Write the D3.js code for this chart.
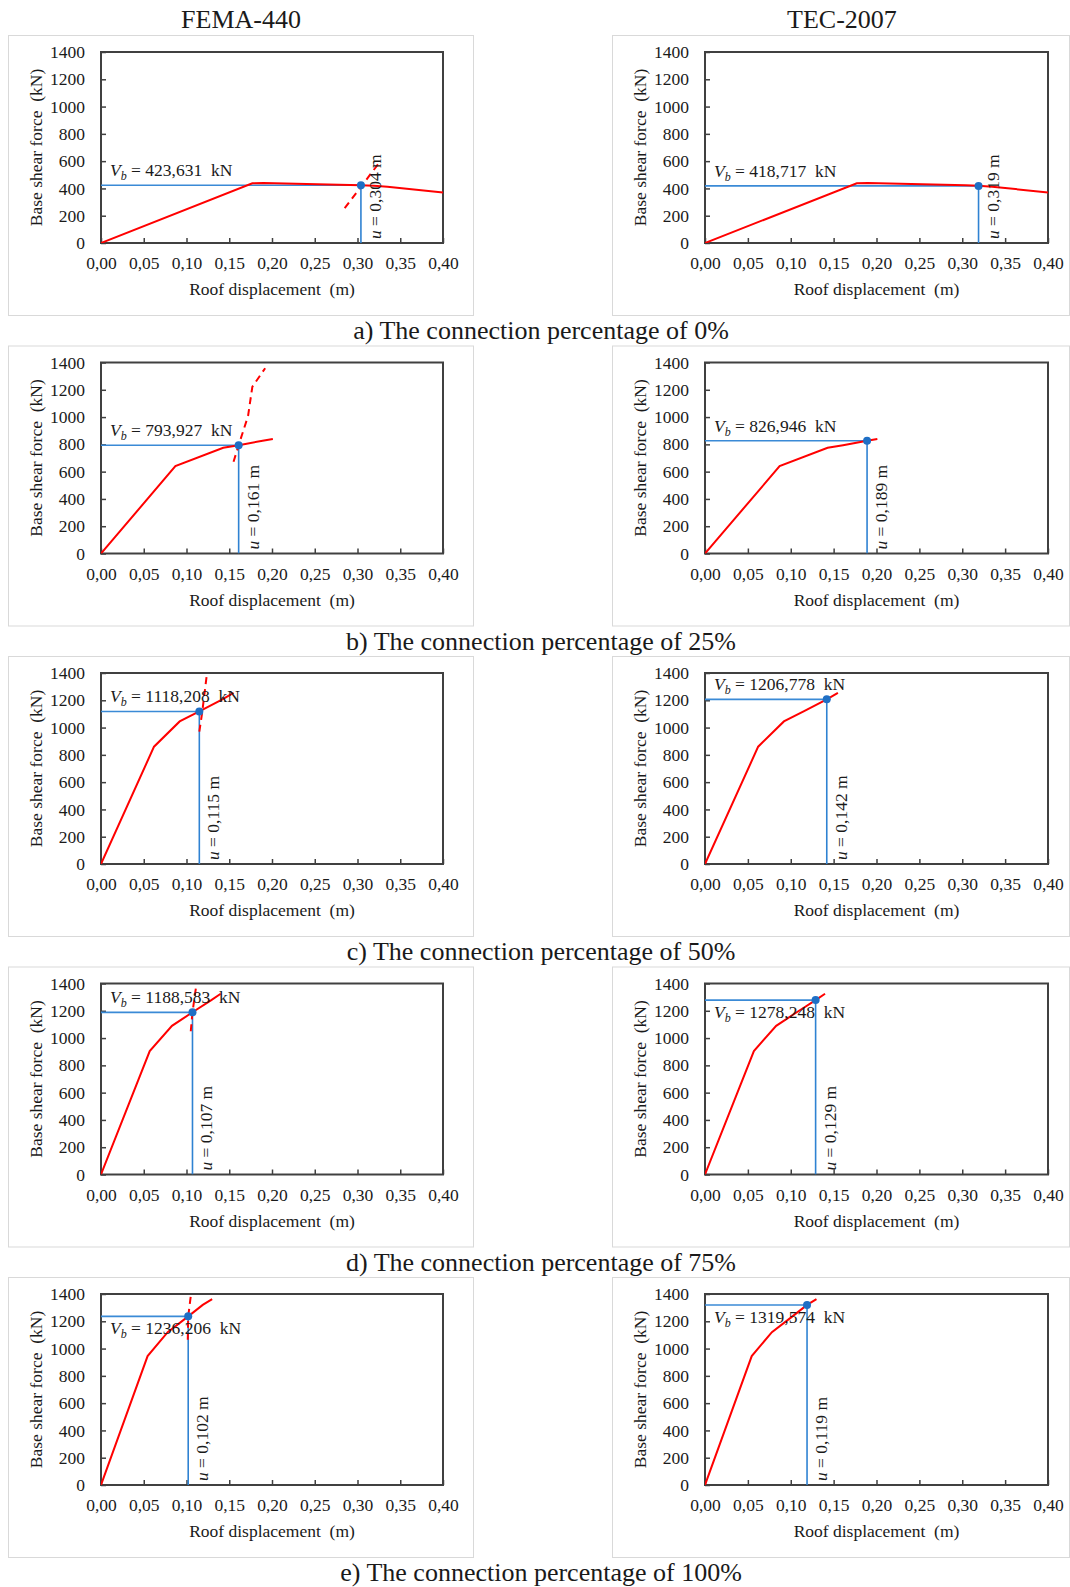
<!DOCTYPE html>
<html>
<head>
<meta charset="utf-8">
<script src="https://cdn.jsdelivr.net/npm/d3@7"></script>
<style>
  body { margin: 0; background: #fff; }
  svg text { font-family: "Liberation Serif", "Times New Roman", serif; fill: #1a1a1a; white-space: pre; }
</style>
</head>
<body>
<div id="chart"></div>
<script>
// data
var methods = ["FEMA-440", "TEC-2007"];
var captions = [
  "a) The connection percentage of 0%",
  "b) The connection percentage of 25%",
  "c) The connection percentage of 50%",
  "d) The connection percentage of 75%",
  "e) The connection percentage of 100%"
];
var xTicks = [0, 0.05, 0.10, 0.15, 0.20, 0.25, 0.30, 0.35, 0.40];
var yTicks = [0, 200, 400, 600, 800, 1000, 1200, 1400];

// capacity (pushover) curves, [roof displacement m, base shear kN]
var pushover0 = [[0, 0], [0.177, 438], [0.19, 440], [0.304, 424], [0.319, 419], [0.335, 413], [0.40, 370]];
var pushover25 = [[0, 0], [0.087, 640], [0.143, 775], [0.161, 794], [0.189, 827], [0.201, 840]];
var pushover50 = [[0, 0], [0.062, 860], [0.092, 1045], [0.115, 1118], [0.142, 1207], [0.155, 1255]];
var pushover75 = [[0, 0], [0.057, 905], [0.083, 1090], [0.107, 1189], [0.129, 1278], [0.140, 1325]];
var pushover100 = [[0, 0], [0.0545, 945], [0.078, 1120], [0.102, 1236], [0.119, 1320], [0.130, 1362]];

// FEMA-440 demand curves (dashed)
var demand0 = [[0.285, 255], [0.325, 585]];
var demand25 = [[0.155, 672], [0.161, 794], [0.172, 1008], [0.177, 1222], [0.192, 1358]];
var demand50 = [[0.115, 970], [0.1185, 1118], [0.124, 1400]];
var demand75 = [[0.105, 1050], [0.107, 1189], [0.1115, 1390]];
var demand100 = [[0.1015, 1065], [0.102, 1236], [0.105, 1385]];

// performance points
var femaU = [0.304, 0.161, 0.115, 0.107, 0.102];
var femaVb = [423.631, 793.927, 1118.208, 1188.583, 1236.206];
var tecU = [0.319, 0.189, 0.142, 0.129, 0.119];
var tecVb = [418.717, 826.946, 1206.778, 1278.248, 1319.574];

var pushovers = [pushover0, pushover25, pushover50, pushover75, pushover100];
var demands = [demand0, demand25, demand50, demand75, demand100];

// layout
var svgWidth = 1070;
var svgHeight = 1587;
var rowStep = 310.5;
var firstTop = 52;
var plotH = 191;
var colX = [{ x0: 101, x1: 443, boxL: 8, boxR: 473, title: 241 },
            { x0: 705, x1: 1048, boxL: 612, boxR: 1069, title: 842 }];
// Vb label under the line for these panels (row, col)
var labelBelow = [[false, false], [false, false], [false, false], [false, true], [true, true]];

var locale = d3.formatLocale({ decimal: ",", thousands: ".", grouping: [3], currency: ["", ""] });
var f2 = locale.format(".2f");
var f3 = locale.format(".3f");
var fInt = d3.format("d");

var svg = d3.select("#chart")
  .append("svg")
  .attr("width", svgWidth)
  .attr("height", svgHeight);

var defs = svg.append("defs");

// column headers
methods.forEach(function(m, c) {
  svg.append("text")
    .attr("x", colX[c].title)
    .attr("y", 28)
    .attr("text-anchor", "middle")
    .style("font-size", "26px")
    .text(m);
});

captions.forEach(function(cap, r) {
  var top = firstTop + r * rowStep;

  svg.append("text")
    .attr("x", 541)
    .attr("y", top + 287)
    .attr("text-anchor", "middle")
    .style("font-size", "26px")
    .text(cap);

  for (var c = 0; c < 2; c++) {
    var col = colX[c];
    var u = c === 0 ? femaU[r] : tecU[r];
    var vb = c === 0 ? femaVb[r] : tecVb[r];

    // outer frame of the panel
    svg.append("rect")
      .attr("x", col.boxL + 0.5)
      .attr("y", top - 17 + 0.5)
      .attr("width", col.boxR - col.boxL)
      .attr("height", 280)
      .attr("fill", "none")
      .attr("stroke", "#d9d9d9")
      .attr("stroke-width", 1);

    var xScale = d3.scaleLinear().domain([0, 0.40]).range([col.x0, col.x1]);
    var yScale = d3.scaleLinear().domain([0, 1400]).range([top + plotH, top]);

    var clipId = "clip" + r + "_" + c;
    defs.append("clipPath").attr("id", clipId)
      .append("rect")
      .attr("x", col.x0).attr("y", top)
      .attr("width", col.x1 - col.x0).attr("height", plotH);

    var g = svg.append("g");

    // axes with inward ticks
    var xAxis = d3.axisBottom(xScale).tickValues(xTicks)
      .tickSizeInner(-5).tickSizeOuter(0).tickPadding(14)
      .tickFormat(f2);
    var yAxis = d3.axisLeft(yScale).tickValues(yTicks)
      .tickSizeInner(-5).tickSizeOuter(0).tickPadding(16)
      .tickFormat(fInt);

    var gx = g.append("g")
      .attr("transform", "translate(0," + (top + plotH) + ")")
      .call(xAxis);
    var gy = g.append("g")
      .attr("transform", "translate(" + col.x0 + ",0)")
      .call(yAxis);
    [gx, gy].forEach(function(a) {
      a.attr("font-family", null).attr("font-size", null);
      a.select(".domain").remove();
      a.selectAll(".tick line").attr("stroke", "#404040").attr("stroke-width", 1.5);
      a.selectAll(".tick text")
        .style("font-size", "17.5px")
        .attr("fill", "#1a1a1a");
    });

    // plot frame
    g.append("rect")
      .attr("x", col.x0).attr("y", top)
      .attr("width", col.x1 - col.x0).attr("height", plotH)
      .attr("fill", "none")
      .attr("stroke", "#404040")
      .attr("stroke-width", 2);

    // axis titles
    g.append("text")
      .attr("x", (col.x0 + col.x1) / 2)
      .attr("y", top + plotH + 52)
      .attr("text-anchor", "middle")
      .style("font-size", "17.5px")
      .text("Roof displacement  (m)");

    g.append("text")
      .attr("transform", "translate(" + (col.x0 - 59) + "," + (top + plotH / 2) + ") rotate(-90)")
      .attr("text-anchor", "middle")
      .style("font-size", "17.5px")
      .text("Base shear force  (kN)");

    var line = d3.line()
      .x(function(d) { return xScale(d[0]); })
      .y(function(d) { return yScale(d[1]); });

    var plotG = g.append("g").attr("clip-path", "url(#" + clipId + ")");

    // blue guide lines at the performance point
    plotG.append("line")
      .attr("x1", xScale(0)).attr("x2", xScale(u))
      .attr("y1", yScale(vb)).attr("y2", yScale(vb))
      .attr("stroke", "#3a8ad6").attr("stroke-width", 1.6);
    plotG.append("line")
      .attr("x1", xScale(u)).attr("x2", xScale(u))
      .attr("y1", yScale(0)).attr("y2", yScale(vb))
      .attr("stroke", "#2f82d2").attr("stroke-width", 1.6);

    plotG.append("path")
      .datum(pushovers[r])
      .attr("d", line)
      .attr("fill", "none")
      .attr("stroke", "#ff0000")
      .attr("stroke-width", 2);

    if (c === 0) {
      plotG.append("path")
        .datum(demands[r])
        .attr("d", line)
        .attr("fill", "none")
        .attr("stroke", "#ff0000")
        .attr("stroke-width", 2)
        .attr("stroke-dasharray", "7,5");
    }

    g.append("circle")
      .attr("cx", xScale(u))
      .attr("cy", yScale(vb))
      .attr("r", 4)
      .attr("fill", "#1f6fc5");

    // Vb label
    var below = labelBelow[r][c];
    var vbText = g.append("text")
      .attr("x", col.x0 + 9)
      .attr("y", yScale(vb) + (below ? 18 : -9))
      .style("font-size", "17.5px");
    vbText.append("tspan").style("font-style", "italic").text("V");
    vbText.append("tspan").style("font-style", "italic").style("font-size", "12px")
      .attr("dy", 4).text("b");
    vbText.append("tspan").attr("dy", -4).text(" = " + f3(vb) + "  kN");

    // u label, rotated
    var uText = g.append("text")
      .attr("transform", "translate(" + (xScale(u) + 20) + "," + (top + plotH - 4) + ") rotate(-90)")
      .style("font-size", "17.5px");
    uText.append("tspan").style("font-style", "italic").text("u");
    uText.append("tspan").text(" = " + f3(u) + " m");
  }
});
</script>
</body>
</html>
